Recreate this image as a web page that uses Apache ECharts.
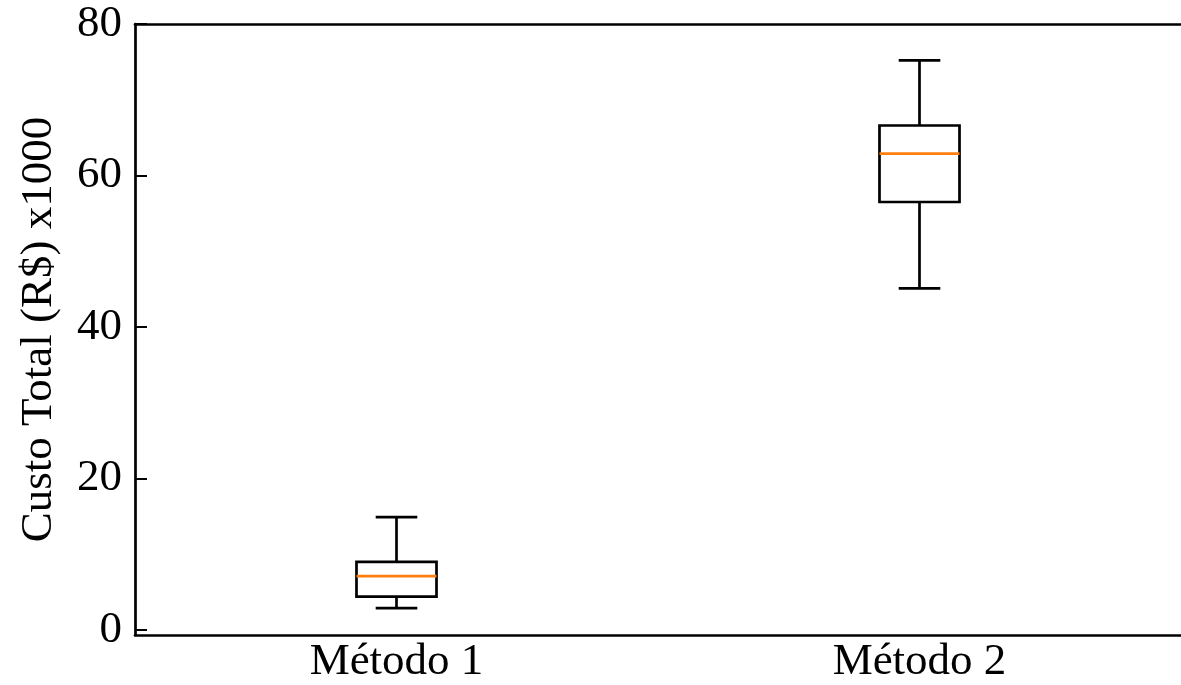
<!DOCTYPE html>
<html>
<head>
<meta charset="utf-8">
<script src="https://cdn.jsdelivr.net/npm/echarts@6/dist/echarts.min.js"></script>
<style>html,body{margin:0;padding:0;background:#fff;}#c{width:1181px;height:685px;}</style>
</head>
<body>
<div id="c"></div>
<script>
const categories = ['Método 1', 'Método 2'];
const whiskerLow = [2.9, 45.1];
const q1 = [4.4, 56.5];
const median = [7.1, 62.9];
const q3 = [9.0, 66.6];
const whiskerHigh = [14.9, 75.2];
const yTicks = [0, 20, 40, 60, 80];

const FONT = "'Liberation Serif', 'Times New Roman', serif";
const data = categories.map((c, i) => [i, whiskerLow[i], q1[i], median[i], q3[i], whiskerHigh[i]]);

const chart = echarts.init(document.getElementById('c'), null, {renderer: 'canvas'});
chart.setOption({
  animation: false,
  backgroundColor: '#fff',
  grid: {left: 135, width: 1048, top: 24, bottom: 50, show: false},
  xAxis: [{
    type: 'category',
    data: categories,
    boundaryGap: true,
    axisLine: {onZero: false, lineStyle: {color: '#000', width: 2.7}},
    axisTick: {inside: true, length: 10, alignWithLabel: true, lineStyle: {color: '#000', width: 2}},
    axisLabel: {color: '#000', fontFamily: FONT, fontSize: 45, margin: 5},
    splitLine: {show: false}
  }, {
    type: 'category',
    data: categories,
    position: 'top',
    boundaryGap: true,
    axisLine: {show: true, onZero: false, lineStyle: {color: '#000', width: 2.7}},
    axisTick: {show: false},
    axisLabel: {show: false},
    splitLine: {show: false}
  }],
  yAxis: {
    type: 'value',
    min: -0.66,
    max: 80,
    name: 'Custo Total (R$) x1000',
    nameLocation: 'middle',
    nameGap: 73,
    nameTextStyle: {color: '#000', fontFamily: FONT, fontSize: 45},
    axisLine: {show: true, onZero: false, lineStyle: {color: '#000', width: 2.7}},
    axisTick: {show: true, inside: true, length: 12, customValues: yTicks, lineStyle: {color: '#000', width: 2}},
    axisLabel: {color: '#000', fontFamily: FONT, fontSize: 45, margin: 13, customValues: yTicks},
    splitLine: {show: false}
  },
  series: [{
    type: 'custom',
    data: data,
    xAxisIndex: 0,
    encode: {x: 0, y: [1, 2, 3, 4, 5]},
    renderItem: function (params, api) {
      const x = api.value(0);
      const band = api.size([1, 0])[0];
      const bw = band * 0.153;
      const cw = bw * 0.52;
      const pLow = api.coord([x, api.value(1)]);
      const pQ1 = api.coord([x, api.value(2)]);
      const pMed = api.coord([x, api.value(3)]);
      const pQ3 = api.coord([x, api.value(4)]);
      const pHigh = api.coord([x, api.value(5)]);
      const cx = pMed[0];
      const blk = {stroke: '#000', lineWidth: 2.7, fill: null};
      return {
        type: 'group',
        children: [
          {type: 'line', shape: {x1: cx, y1: pQ3[1], x2: cx, y2: pHigh[1]}, style: blk},
          {type: 'line', shape: {x1: cx, y1: pQ1[1], x2: cx, y2: pLow[1]}, style: blk},
          {type: 'line', shape: {x1: cx - cw / 2, y1: pHigh[1], x2: cx + cw / 2, y2: pHigh[1]}, style: blk},
          {type: 'line', shape: {x1: cx - cw / 2, y1: pLow[1], x2: cx + cw / 2, y2: pLow[1]}, style: blk},
          {type: 'rect', shape: {x: cx - bw / 2, y: pQ3[1], width: bw, height: pQ1[1] - pQ3[1]}, style: {stroke: '#000', lineWidth: 2.7, fill: 'none'}},
          {type: 'line', shape: {x1: cx - bw / 2, y1: pMed[1], x2: cx + bw / 2, y2: pMed[1]}, style: {stroke: '#ff7f0e', lineWidth: 2.7}}
        ]
      };
    }
  }]
});
</script>
</body>
</html>
